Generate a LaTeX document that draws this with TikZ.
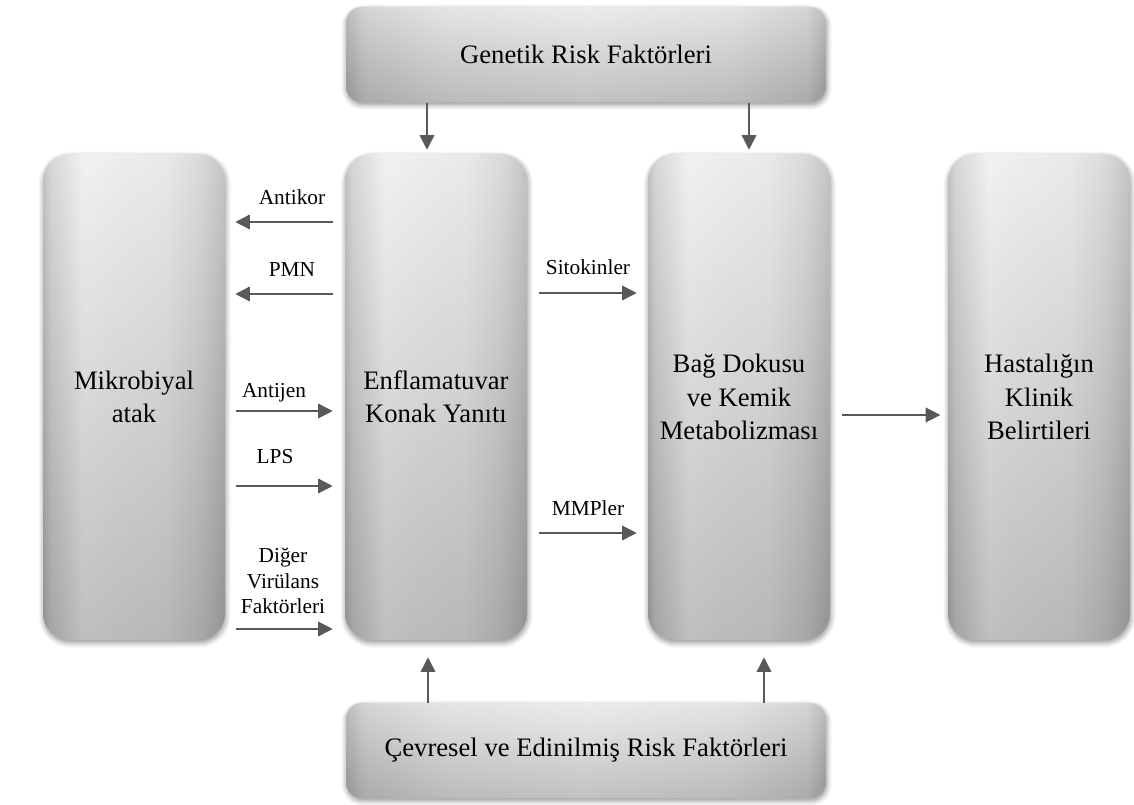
\documentclass[tikz,border=0pt]{standalone}
\usepackage{fontspec}
\setmainfont{Liberation Serif}
\usetikzlibrary{arrows.meta,shadows.blur,calc}
\definecolor{boxtop}{HTML}{ECECEC}
\definecolor{boxbot}{HTML}{A4A4A4}
\definecolor{bartop}{HTML}{E4E4E4}
\definecolor{barbot}{HTML}{A8A8A8}
\definecolor{arrowgray}{HTML}{595959}
\pgfdeclarehorizontalshading{sidedark}{100bp}{color(0bp)=(black!60); color(25bp)=(black!60); color(27bp)=(black!35); color(31bp)=(white!80!black); color(36bp)=(white); color(45bp)=(white!95!black); color(58bp)=(black!10); color(68bp)=(black!30); color(73bp)=(black!50); color(75bp)=(black!60); color(100bp)=(black!60)}
\pgfdeclarehorizontalshading{bardark}{100bp}{color(0bp)=(black!60); color(25bp)=(black!60); color(27bp)=(black!30); color(35bp)=(white!90!black); color(50bp)=(white); color(65bp)=(white!90!black); color(73bp)=(black!30); color(75bp)=(black!60); color(100bp)=(black!60)}
\tikzset{
  colbox/.style={rounded corners=20pt, minimum width=136.5pt, minimum height=364.5pt,
    inner sep=0pt, align=center, font=\fontsize{20}{25}\selectfont,
    top color=boxtop, bottom color=boxbot,
    blur shadow={shadow blur steps=8, shadow xshift=0.5pt, shadow yshift=-2pt, shadow opacity=45, shadow blur radius=4pt},
    path picture={\shade[shading=sidedark, opacity=0.3] (path picture bounding box.south west) rectangle (path picture bounding box.north east);}},
  barbox/.style={rounded corners=12pt, minimum width=360pt, minimum height=71.25pt,
    inner sep=0pt, align=center, font=\fontsize{20}{25}\selectfont,
    top color=bartop, bottom color=barbot,
    blur shadow={shadow blur steps=8, shadow xshift=0.5pt, shadow yshift=-2pt, shadow opacity=45, shadow blur radius=4pt},
    path picture={\shade[shading=bardark, opacity=0.3] (path picture bounding box.south west) rectangle (path picture bounding box.north east);}},
  lbl/.style={inner sep=0pt, anchor=base, font=\fontsize{16}{19}\selectfont},
  mlbl/.style={inner sep=0pt, align=center, font=\fontsize{16}{19}\selectfont},
  arr/.style={draw=arrowgray, line width=1.1pt, -{Triangle[length=11pt,width=11pt]}, arrowgray}
}
\begin{document}
\begin{tikzpicture}[x=0.75pt,y=-0.75pt]
\useasboundingbox (0,0) rectangle (1134,805);

% boxes
\node[barbox] (gen) at (586,54.5) {Genetik Risk Faktörleri};
\node[barbox] (cev) at (586,750.5) {Çevresel ve Edinilmiş Risk Faktörleri};
\node[colbox] (b1) at (134,397) {Mikrobiyal\\atak};
\node[colbox] (b2) at (436,397) {Enflamatuvar\\Konak Yanıtı};
\node[colbox] (b3) at (739,397) {Bağ Dokusu\\ve Kemik\\Metabolizması};
\node[colbox] (b4) at (1039,397) {Hastalığın\\Klinik\\Belirtileri};

% labels
\node[lbl] (lantikor) at (292,205) {Antikor};
\node[lbl] (lpmn) at (292,277) {PMN};
\node[lbl] (lantijen) at (274,397) {Antijen};
\node[lbl] (llps) at (275,463) {LPS};
\node[mlbl] (ldiger) at (283,581) {Diğer\\Virülans\\Faktörleri};
\node[lbl] (lsito) at (588,275) {Sitokinler};
\node[lbl] (lmmp) at (588,515) {MMPler};

% horizontal arrows
\draw[arr, shorten <=9pt, shorten >=7.5pt] (b2.west |- 0,222) -- (b1.east |- 0,222);
\draw[arr, shorten <=9pt, shorten >=7.5pt] (b2.west |- 0,294) -- (b1.east |- 0,294);
\draw[arr, shorten <=8.25pt, shorten >=9pt] (b1.east |- 0,411) -- (b2.west |- 0,411);
\draw[arr, shorten <=8.25pt, shorten >=9pt] (b1.east |- 0,486) -- (b2.west |- 0,486);
\draw[arr, shorten <=8.25pt, shorten >=9pt] (b1.east |- 0,629) -- (b2.west |- 0,629);
\draw[arr, shorten <=9pt, shorten >=8.25pt] (b2.east |- 0,293) -- (b3.west |- 0,293);
\draw[arr, shorten <=9pt, shorten >=8.25pt] (b2.east |- 0,533) -- (b3.west |- 0,533);
\draw[arr, shorten <=9pt, shorten >=5.5pt] (b3.east |- 0,415) -- (b4.west |- 0,415);

% vertical arrows
\draw[arr, shorten <=0.75pt, shorten >=3pt] (gen.south -| 427,0) -- (b2.north -| 427,0);
\draw[arr, shorten <=0.75pt, shorten >=3pt] (gen.south -| 749,0) -- (b3.north -| 749,0);
\draw[arr, shorten >=12.75pt] (cev.north -| 428,0) -- (b2.south -| 428,0);
\draw[arr, shorten >=12.75pt] (cev.north -| 764,0) -- (b3.south -| 764,0);
\end{tikzpicture}
\end{document}
